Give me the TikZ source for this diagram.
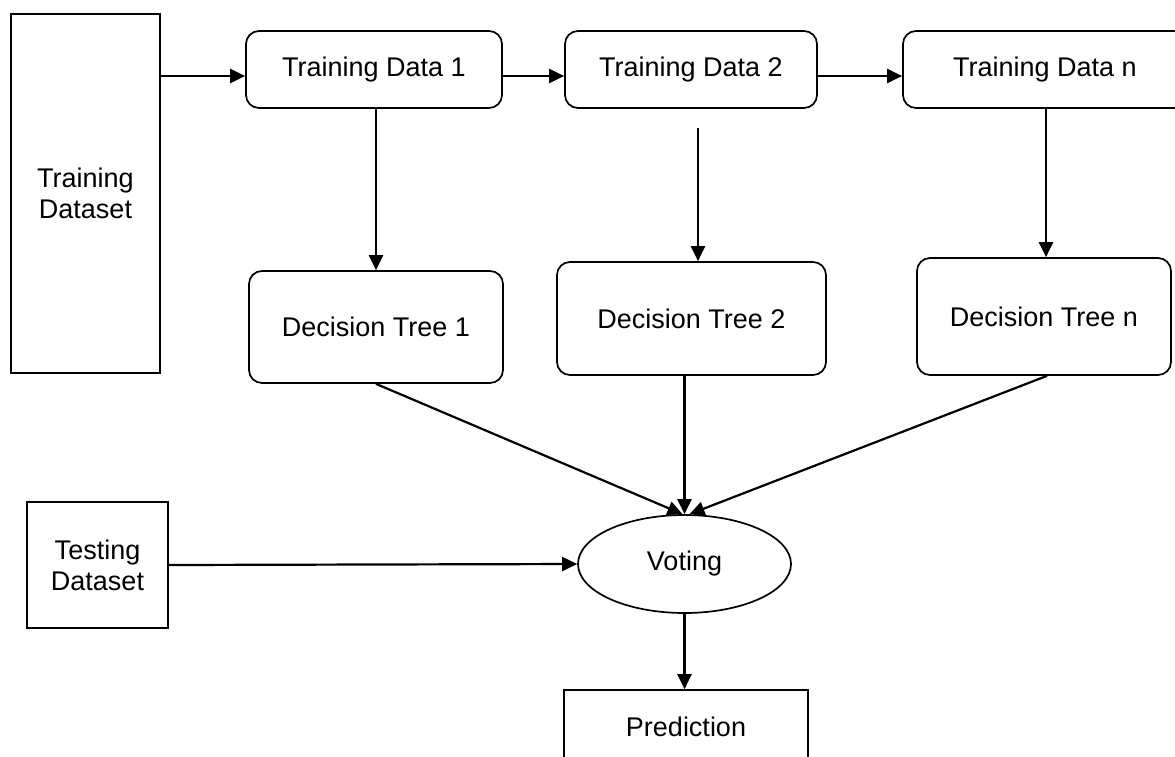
\documentclass[tikz,border=0pt]{standalone}
\usepackage{fontspec}
\setmainfont{Liberation Sans}
\usetikzlibrary{arrows.meta,shapes.geometric,calc}
\begin{document}
\begin{tikzpicture}[x=1pt,y=-1pt,
  every node/.style={font=\fontsize{27}{31}\selectfont, inner sep=0pt, align=center},
  sqbox/.style={draw, line width=1.7pt},
  rbox/.style={draw, line width=1.7pt, rounded corners=13pt},
  oval/.style={draw, ellipse, line width=1.7pt},
  arr/.style={line width=2.2pt, -{Triangle[length=15pt,width=14pt]}}]
\useasboundingbox (0,0) rectangle (1175,756);
\clip (0,0) rectangle (1175,756);
\node[sqbox, minimum width=149pt, minimum height=359pt] (trainds) at (85.5,193.5) {Training\\Dataset};
\node[rbox, minimum width=256pt, minimum height=77pt] (td1) at (374,69.5) {Training Data 1};
\node[rbox, minimum width=252pt, minimum height=77pt] (td2) at (691,69.5) {Training Data 2};
\node[rbox, minimum width=284pt, minimum height=77pt] (tdn) at (1045,69.5) {Training Data n};
\node[rbox, minimum width=254pt, minimum height=112pt] (dt1) at (376,327) {Decision Tree 1};
\node[rbox, minimum width=269pt, minimum height=113pt] (dt2) at (691.5,318.5) {Decision Tree 2};
\node[rbox, minimum width=254pt, minimum height=117pt] (dtn) at (1044,316.5) {Decision Tree n};
\node[oval, minimum width=213pt, minimum height=98pt] (vote) at (684.5,564) {Voting};
\node[sqbox, minimum width=141pt, minimum height=126pt] (testds) at (97.5,565) {Testing\\Dataset};
\node[sqbox, minimum width=244pt, minimum height=74pt] (pred) at (686,727) {Prediction};
% top row
\draw[arr] ($(trainds.east |- td1.west)+(0,6.5)$) -- ($(td1.west)+(0,6.5)$);
\draw[arr] ($(td1.east)+(0,6.5)$) -- ($(td2.west)+(0,6.5)$);
\draw[arr] ($(td2.east)+(0,6.5)$) -- ($(tdn.west)+(0,6.5)$);
% down to trees
\draw[arr] ($(td1.south)+(2,0)$) -- (dt1.north);
\draw[arr] ($(td2.south)+(7,19)$) -- ($(dt2.north)+(6.5,0)$);
\draw[arr] ($(tdn.south)+(1,0)$) -- ($(dtn.north)+(2,0)$);
% to voting
\draw[arr] (dt1.south) -- ($(vote.north)+(-2,0)$);
\draw[arr] (vote.north |- dt2.south) -- (vote.north);
\draw[arr] ($(dtn.south)+(3,0)$) -- ($(vote.north)+(5,0)$);
\draw[arr] (testds.east) -- (vote.west);
\draw[arr] (vote.south) -- (vote.south |- pred.north);
\end{tikzpicture}
\end{document}
